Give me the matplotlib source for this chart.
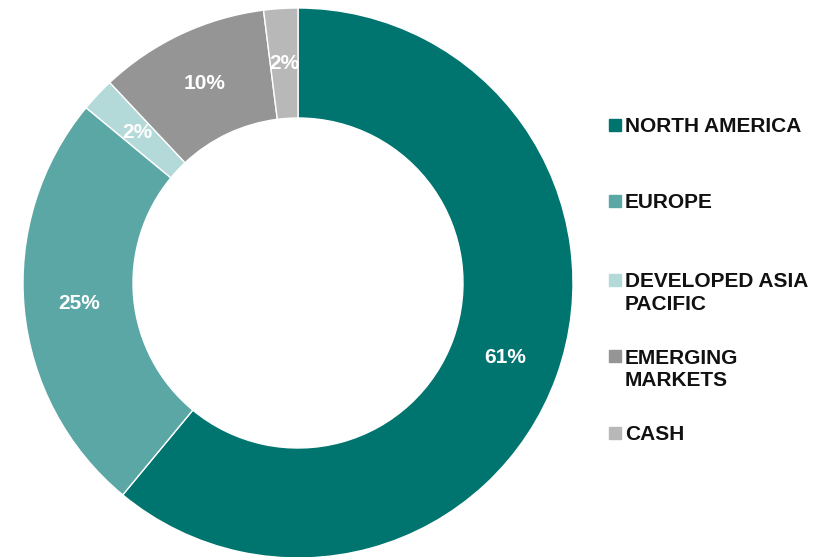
import matplotlib.pyplot as plt

plt.rcParams['font.family'] = ['Liberation Sans', 'DejaVu Sans']

# data
regions = ['NORTH AMERICA', 'EUROPE', 'DEVELOPED ASIA\nPACIFIC', 'EMERGING\nMARKETS', 'CASH']
weights = [61, 25, 2, 10, 2]
colors = ['#00746F', '#5BA7A5', '#B3DAD8', '#959595', '#B8B8B8']

fig = plt.figure(figsize=(8.23, 5.57), dpi=100)
ax = fig.add_axes([0, 0, 1, 1])

wedges, texts, pcts = ax.pie(
    weights, colors=colors, startangle=90, counterclock=False,
    center=(298, 274), radius=275, frame=True,
    autopct='%d%%', pctdistance=0.8,
    wedgeprops=dict(width=110, edgecolor='white', linewidth=1),
    textprops=dict(color='white', fontsize=15, fontweight='bold'))
ax.set_xlim(0, 823)
ax.set_ylim(0, 557)
ax.axis('off')

# legend, placed by hand (rows are not evenly spaced)
marker_y = [432, 356, 277.5, 201, 124]
line_gap = 23
for lab, col, y in zip(regions, colors, marker_y):
    ax.plot([615.5], [y], marker='s', markersize=8, color=col, linestyle='none')
    for i, line in enumerate(lab.split('\n')):
        ax.text(625, y - 7.5 - i * line_gap, line, fontsize=15, fontweight='bold',
                va='baseline', ha='left', color='#111111')

fig.savefig('out.png', dpi=100)
